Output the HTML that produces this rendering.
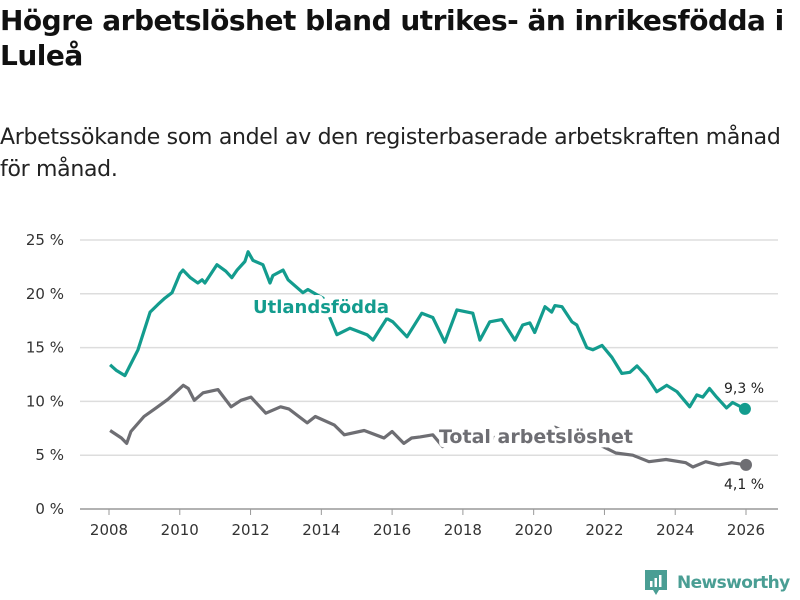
<!DOCTYPE html>
<html><head><meta charset="utf-8"><style>
body{margin:0;width:800px;height:600px;background:#fff;font-family:"Liberation Sans","DejaVu Sans",sans-serif;overflow:hidden;position:relative}
h1{position:absolute;left:0;top:3px;margin:0;font-size:28px;line-height:35px;font-weight:bold;color:#111;width:800px;font-family:"DejaVu Sans",sans-serif;letter-spacing:-0.5px}
.sub{position:absolute;left:0;top:122px;font-size:22px;line-height:32px;color:#222;font-family:"DejaVu Sans",sans-serif;letter-spacing:-0.3px}
svg{position:absolute;left:0;top:0}
</style></head><body>
<h1>Högre arbetslöshet bland utrikes- än inrikesfödda i Luleå</h1>
<div class="sub">Arbetssökande som andel av den registerbaserade arbetskraften månad<br>för månad.</div>
<svg id="chart" width="800" height="600"></svg>
<script>
const xTicks=[2008,2010,2012,2014,2016,2018,2020,2022,2024,2026];
const yTicks=[0,5,10,15,20,25];
const utlYears=[2008.03,2008.2,2008.45,2008.82,2009.16,2009.38,2009.58,2009.78,2010.01,2010.09,2010.3,2010.51,2010.63,2010.71,2011.05,2011.3,2011.47,2011.62,2011.84,2011.93,2012.07,2012.35,2012.55,2012.63,2012.92,2013.06,2013.48,2013.62,2013.88,2014.05,2014.24,2014.44,2014.81,2015.29,2015.46,2015.85,2016.02,2016.42,2016.84,2017.15,2017.49,2017.83,2018.28,2018.48,2018.76,2019.10,2019.47,2019.69,2019.89,2020.03,2020.32,2020.51,2020.60,2020.80,2021.08,2021.22,2021.50,2021.67,2021.93,2022.21,2022.49,2022.72,2022.92,2023.20,2023.48,2023.76,2024.05,2024.41,2024.61,2024.78,2024.97,2025.17,2025.45,2025.62,2025.97];
const utlValues=[13.4,12.9,12.4,14.8,18.3,19.0,19.6,20.1,21.9,22.2,21.5,21.0,21.3,21.0,22.7,22.1,21.5,22.2,23.0,23.9,23.1,22.7,21.0,21.7,22.2,21.3,20.1,20.4,19.9,19.6,17.8,16.2,16.8,16.2,15.7,17.7,17.4,16.0,18.2,17.8,15.5,18.5,18.2,15.7,17.4,17.6,15.7,17.1,17.3,16.4,18.8,18.3,18.9,18.8,17.4,17.1,15.0,14.8,15.2,14.1,12.6,12.7,13.3,12.3,10.9,11.5,10.9,9.5,10.6,10.4,11.2,10.4,9.4,9.9,9.3];
const totYears=[2008.03,2008.35,2008.5,2008.62,2008.99,2009.33,2009.67,2010.1,2010.24,2010.41,2010.66,2011.08,2011.45,2011.73,2012.01,2012.43,2012.85,2013.08,2013.6,2013.83,2014.37,2014.65,2015.21,2015.77,2016.0,2016.33,2016.55,2016.79,2017.15,2017.43,2017.8,2018.2,2018.6,2019.0,2019.4,2019.8,2020.2,2020.6,2021.0,2021.4,2021.96,2022.32,2022.8,2023.26,2023.74,2024.3,2024.5,2024.86,2025.23,2025.6,2026.0];
const totValues=[7.3,6.6,6.1,7.2,8.6,9.4,10.2,11.5,11.2,10.1,10.8,11.1,9.5,10.1,10.4,8.9,9.5,9.3,8.0,8.6,7.8,6.9,7.3,6.6,7.2,6.1,6.6,6.7,6.9,5.8,6.4,6.9,6.2,6.8,6.5,7.1,6.7,7.6,7.0,6.6,5.8,5.2,5.0,4.4,4.6,4.3,3.9,4.4,4.1,4.3,4.1];
const NS="http://www.w3.org/2000/svg";
const svg=document.getElementById('chart');
const X=y=>109+(y-2008)*(746-109)/18;
const Y=v=>509-v*(509-240)/25;
function el(t,a,p){const e=document.createElementNS(NS,t);for(const k in a)e.setAttribute(k,a[k]);(p||svg).appendChild(e);return e;}
yTicks.forEach(v=>{
 const g=el('line',{x1:80,x2:778,y1:Y(v),y2:Y(v),stroke:v===0?'#999':'#ddd','stroke-width':1.5});
 
 
 const t=el('text',{x:64,y:Y(v)+5,'text-anchor':'end','font-size':15,fill:'#333','font-family':'DejaVu Sans, sans-serif'});
 t.textContent=v+' %';
 
 
});
xTicks.forEach(yr=>{
 const l=el('line',{x1:X(yr),x2:X(yr),y1:509,y2:515,stroke:'#999','stroke-width':1});
 
 
 const t=el('text',{x:X(yr),y:535,'text-anchor':'middle','font-size':15,fill:'#333','font-family':'DejaVu Sans, sans-serif'});
 t.textContent=yr;
 
 
});
function series(xs,vs,color,name){
 const d=xs.map((x,i)=>(i?'L':'M')+X(x).toFixed(1)+','+Y(vs[i]).toFixed(1)).join('');
 const p=el('path',{d:d,fill:'none',stroke:color,'stroke-width':3.2,'stroke-linejoin':'round'});
 
 
 const c=el('circle',{cx:X(xs[xs.length-1]),cy:Y(vs[vs.length-1]),r:6,fill:color});
 
 
}
series(totYears,totValues,'#6e6e73','total');
series(utlYears,utlValues,'#139c8e','utlandsfodda');
function label(txt,x,y,color,size,bold,name){
 const t=el('text',{x:x,y:y,'font-size':size,'font-weight':bold?'bold':'normal',fill:color,stroke:'#fff','stroke-width':bold?9:4,'paint-order':'stroke','stroke-linejoin':'round','font-family':'DejaVu Sans, sans-serif'});
 t.textContent=txt;
 
 
}
label('Utlandsfödda',253,313,'#139c8e',18,true,'utlandsfodda-label');
label('Total arbetslöshet',439,443,'#6e6e73',19,true,'total-label');
label('9,3 %',724,393,'#222',14,false,'utlandsfodda-end-value');
label('4,1 %',724,489,'#222',14,false,'total-end-value');
</script>
<div style="position:absolute;left:645px;top:570px;height:26px;display:flex;align-items:center">
<svg width="22" height="26" viewBox="0 0 22 26" style="position:static"><path d="M0 0H22V20H14L11 25L8 20H0Z" fill="#4a9e94"/><rect x="5" y="11" width="2.5" height="6" fill="#fff"/><rect x="9.5" y="8" width="2.5" height="9" fill="#fff"/><rect x="14" y="5" width="2.5" height="12" fill="#fff"/></svg>
<span style="margin-left:10px;font-size:17px;font-weight:bold;color:#4a9e94;font-family:'DejaVu Sans',sans-serif;letter-spacing:-0.6px">Newsworthy</span>
</div>
</body></html>
